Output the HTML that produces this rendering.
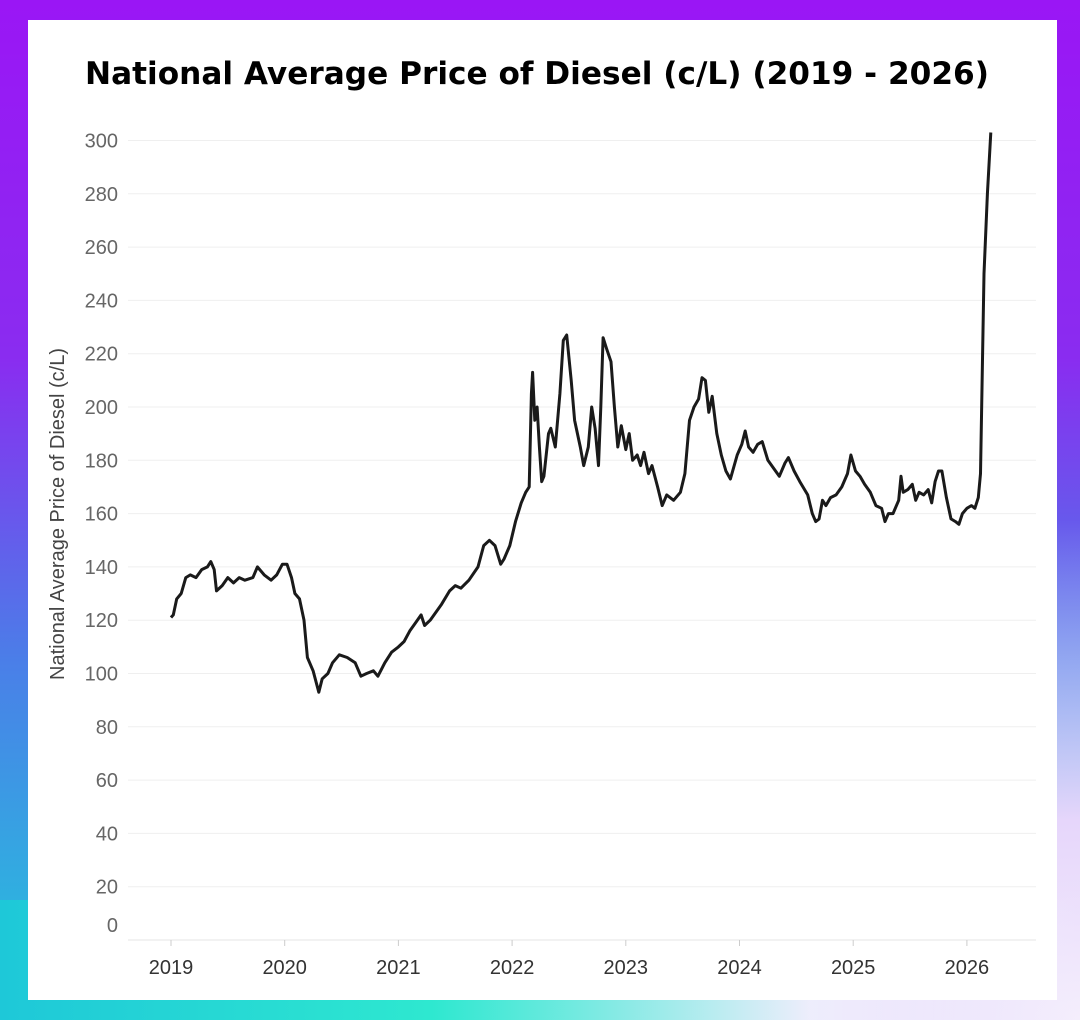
<!DOCTYPE html>
<html><head><meta charset="utf-8"><style>
html,body{margin:0;padding:0;}
body{width:1080px;height:1020px;position:relative;overflow:hidden;font-family:"Liberation Sans",sans-serif;
background:linear-gradient(180deg,#9a16f5 0%,#8a2cf0 35%,#4a7fe8 65%,#22c8dc 100%);}
#br{position:absolute;left:0;top:0;width:1080px;height:1020px;background:radial-gradient(ellipse 600px 500px at 1080px 1020px,#f4eefc 0%,#e6d6fb 40%,rgba(200,160,250,0) 100%);}
#bl{position:absolute;left:0;top:900px;width:1080px;height:120px;background:linear-gradient(90deg,#1ec8d8 0%,#2ee8d0 40%,rgba(240,240,252,0.9) 75%,rgba(240,240,252,0) 100%);}
#card{position:absolute;left:28px;top:20px;width:1029px;height:980px;background:#fff;}
svg{position:absolute;left:0;top:0;}
</style></head><body>
<div id="br"></div>
<div id="bl"></div>
<div id="card"></div>
<svg id="chart" width="1080" height="1020">
<text x="537" y="84" text-anchor="middle" font-size="31" font-weight="bold" font-family="DejaVu Sans, sans-serif" textLength="904" lengthAdjust="spacingAndGlyphs" fill="#000">National Average Price of Diesel (c/L) (2019 - 2026)</text>
<text transform="translate(64,514) rotate(-90)" text-anchor="middle" font-size="20" fill="#444">National Average Price of Diesel (c/L)</text>
<g id="grid"></g><g id="yt"></g><g id="xt"></g><path id="line" fill="none" stroke="#1a1a1a" stroke-width="3" stroke-linejoin="round"></path>
</svg>
<script>
const yTicks=[0,20,40,60,80,100,120,140,160,180,200,220,240,260,280,300];
const xTicks=[2019,2020,2021,2022,2023,2024,2025,2026];
const years=[2019.0,2019.02,2019.05,2019.09,2019.13,2019.17,2019.22,2019.27,2019.32,2019.35,2019.38,2019.40,2019.45,2019.5,2019.55,2019.6,2019.65,2019.72,2019.76,2019.82,2019.88,2019.93,2019.98,2020.02,2020.06,2020.09,2020.13,2020.17,2020.2,2020.25,2020.3,2020.33,2020.38,2020.42,2020.48,2020.55,2020.62,2020.67,2020.72,2020.78,2020.82,2020.88,2020.94,2021.0,2021.05,2021.1,2021.15,2021.2,2021.23,2021.28,2021.33,2021.38,2021.45,2021.5,2021.55,2021.62,2021.7,2021.75,2021.8,2021.85,2021.9,2021.93,2021.98,2022.03,2022.08,2022.12,2022.15,2022.17,2022.18,2022.2,2022.22,2022.24,2022.26,2022.28,2022.32,2022.34,2022.38,2022.42,2022.45,2022.48,2022.52,2022.55,2022.6,2022.63,2022.67,2022.7,2022.73,2022.76,2022.78,2022.8,2022.83,2022.87,2022.9,2022.93,2022.96,2023.0,2023.03,2023.06,2023.1,2023.13,2023.16,2023.2,2023.23,2023.28,2023.32,2023.36,2023.42,2023.48,2023.52,2023.56,2023.6,2023.64,2023.67,2023.7,2023.73,2023.76,2023.8,2023.84,2023.88,2023.92,2023.98,2024.02,2024.05,2024.08,2024.12,2024.16,2024.2,2024.25,2024.3,2024.35,2024.4,2024.43,2024.48,2024.53,2024.6,2024.64,2024.67,2024.7,2024.73,2024.76,2024.8,2024.85,2024.9,2024.95,2024.98,2025.02,2025.06,2025.1,2025.15,2025.2,2025.25,2025.28,2025.31,2025.35,2025.4,2025.42,2025.44,2025.48,2025.52,2025.55,2025.58,2025.62,2025.66,2025.69,2025.72,2025.75,2025.78,2025.82,2025.86,2025.9,2025.93,2025.96,2026.0,2026.04,2026.07,2026.1,2026.12,2026.15,2026.18,2026.21];
const prices=[121,122,128,130,136,137,136,139,140,142,139,131,133,136,134,136,135,136,140,137,135,137,141,141,136,130,128,120,106,101,93,98,100,104,107,106,104,99,100,101,99,104,108,110,112,116,119,122,118,120,123,126,131,133,132,135,140,148,150,148,141,143,148,157,164,168,170,205,213,195,200,185,172,174,190,192,185,205,225,227,210,195,185,178,185,200,192,178,200,226,222,217,200,185,193,184,190,180,182,178,183,175,178,170,163,167,165,168,175,195,200,203,211,210,198,204,190,182,176,173,182,186,191,185,183,186,187,180,177,174,179,181,176,172,167,160,157,158,165,163,166,167,170,175,182,176,174,171,168,163,162,157,160,160,165,174,168,169,171,165,168,167,169,164,172,176,176,166,158,157,156,160,162,163,162,166,175,250,280,303];
const X=v=>171+(v-2019)*113.7;
const Y=v=>940-v*2.665;
const ns='http://www.w3.org/2000/svg';
const grid=document.getElementById('grid'),yt=document.getElementById('yt'),xt=document.getElementById('xt');
yTicks.forEach(t=>{
 const l=document.createElementNS(ns,'line');
 l.setAttribute('x1',128);l.setAttribute('x2',1036);l.setAttribute('y1',Y(t));l.setAttribute('y2',Y(t));
 l.setAttribute('stroke',t===0?'#e4e4e4':'#efefef');l.setAttribute('stroke-width',1);
 
 
 grid.appendChild(l);
 const s=document.createElementNS(ns,'text');
 s.setAttribute('x',118);s.setAttribute('y',t===0?932:Y(t)+7);s.setAttribute('text-anchor','end');
 s.setAttribute('font-size',20);s.setAttribute('fill','#666');s.textContent=t;
 
 
 yt.appendChild(s);
});
xTicks.forEach(t=>{
 const l=document.createElementNS(ns,'line');
 l.setAttribute('x1',X(t));l.setAttribute('x2',X(t));l.setAttribute('y1',940);l.setAttribute('y2',946);
 l.setAttribute('stroke','#ccc');
 
 
 xt.appendChild(l);
 const s=document.createElementNS(ns,'text');
 s.setAttribute('x',X(t));s.setAttribute('y',974);s.setAttribute('text-anchor','middle');
 s.setAttribute('font-size',20);s.setAttribute('fill','#333');s.textContent=t;
 
 
 xt.appendChild(s);
});
document.getElementById('line').setAttribute('d',years.map((y,i)=>(i?'L':'M')+X(y).toFixed(1)+','+Y(prices[i]).toFixed(1)).join(''));
</script>
</body></html>
